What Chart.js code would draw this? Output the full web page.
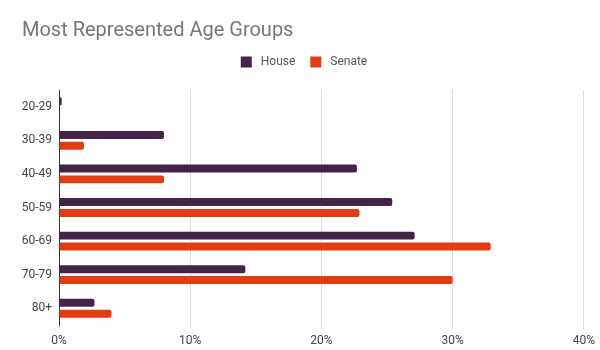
<!DOCTYPE html>
<html lang="en">
<head>
  <meta charset="UTF-8">
  <title>Most Represented Age Groups</title>
  <script src="https://cdn.jsdelivr.net/npm/chart.js"></script>
  <style>
    html, body { margin: 0; padding: 0; background: #fff; }
    #wrap { width: 600px; height: 350px; position: relative; }
  </style>
</head>
<body>
  <div id="wrap"><canvas id="ageChart"></canvas></div>
  <script>
    // age groups and share of members (%)
    const ageGroups = ['20-29', '30-39', '40-49', '50-59', '60-69', '70-79', '80+'];
    const houseShare = [0.2, 8, 22.7, 25.4, 27.1, 14.2, 2.7];
    const senateShare = [0, 1.9, 8, 22.9, 32.9, 30, 4];
    const xTicks = [0, 10, 20, 30, 40];

    // extra room under the legend
    const legendGap = {
      id: 'legendGap',
      beforeInit(chart) {
        const fit = chart.legend.fit;
        chart.legend.fit = function () {
          fit.bind(chart.legend)();
          this.height += 12;
        };
      }
    };

    const ctx = document.getElementById('ageChart').getContext('2d');
    new Chart(ctx, {
      type: 'bar',
      data: {
        labels: ageGroups,
        datasets: [
          { label: 'House', data: houseShare, backgroundColor: '#432447', borderRadius: 2, borderSkipped: 'start' },
          { label: 'Senate', data: senateShare, backgroundColor: '#e23c12', borderRadius: 2, borderSkipped: 'start' }
        ]
      },
      plugins: [legendGap],
      options: {
        indexAxis: 'y',
        responsive: true,
        maintainAspectRatio: false,
        animation: false,
        categoryPercentage: 0.65,
        barPercentage: 0.73,
        layout: { padding: { left: 22, right: 14, top: 0, bottom: 0 } },
        plugins: {
          title: {
            display: true,
            text: 'Most Represented Age Groups',
            align: 'start',
            color: '#777',
            font: { family: 'Roboto', size: 20, weight: 'normal' },
            padding: { top: 19, bottom: -2 }
          },
          legend: {
            position: 'top',
            labels: {
              boxWidth: 11,
              boxHeight: 11,
              color: '#555',
              font: { family: 'Roboto', size: 12 },
              padding: 15,
              generateLabels: (chart) =>
                Chart.defaults.plugins.legend.labels.generateLabels(chart)
                  .map(item => ({ ...item, text: ' ' + item.text }))
            }
          },
          tooltip: { enabled: false }
        },
        scales: {
          x: {
            min: 0,
            max: 40,
            afterBuildTicks: (scale) => { scale.ticks = xTicks.map(v => ({ value: v })); },
            afterFit: (scale) => { scale.height = 25; },
            ticks: {
              callback: (v) => v + '%',
              color: '#444',
              font: { family: 'Roboto', size: 12 },
              padding: 5
            },
            grid: { color: '#dcdcdc', tickLength: 4, drawTicks: true },
            border: { display: false }
          },
          y: {
            afterFit: (scale) => { scale.width = 37; },
            ticks: {
              color: '#444',
              font: { family: 'Roboto', size: 12 },
              padding: 7
            },
            grid: { display: false, drawTicks: false, tickLength: 0 },
            border: { display: true, color: '#333', width: 1 }
          }
        }
      }
    });
  </script>
</body>
</html>
